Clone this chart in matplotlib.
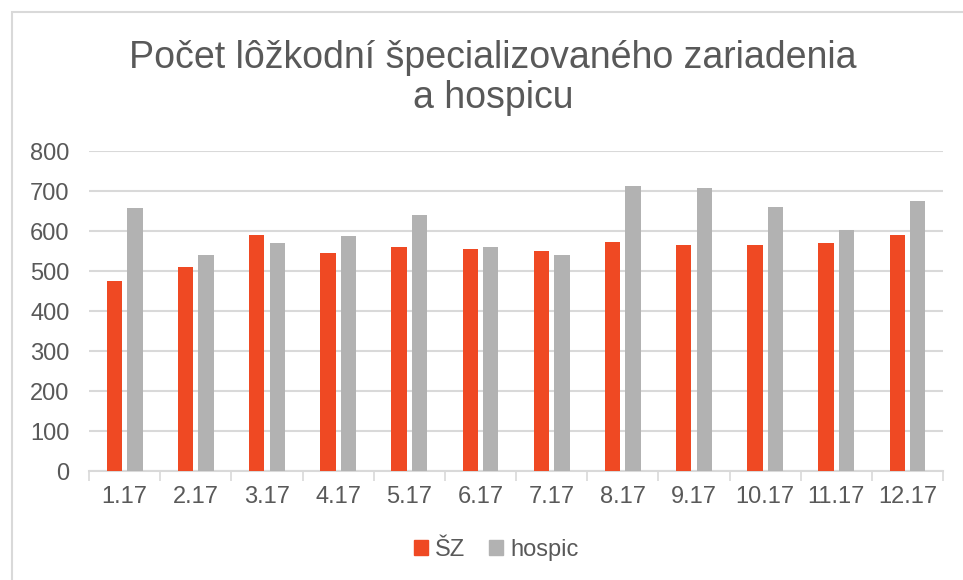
import numpy as np
import matplotlib.pyplot as plt
import matplotlib.patches as mpatches

months = ["1.17", "2.17", "3.17", "4.17", "5.17", "6.17",
          "7.17", "8.17", "9.17", "10.17", "11.17", "12.17"]
sz_values = [476, 511, 589, 544, 560, 555, 551, 572, 565, 564, 570, 589]
hospic_values = [658, 539, 570, 587, 641, 561, 539, 712, 708, 659, 602, 676]
y_ticks = [0, 100, 200, 300, 400, 500, 600, 700, 800]

plt.rcParams['font.family'] = ['Liberation Sans', 'DejaVu Sans']

TEXT = "#595959"
GRID = "#D9D9D9"
SZ_COLOR = "#EF4923"
HOSPIC_COLOR = "#B2B2B2"

fig = plt.figure(figsize=(9.63, 5.8), dpi=100)
ax = fig.add_axes([89 / 963, 109 / 580, 854 / 963, 320 / 580])

x = np.arange(len(months))
w = 0.216
ax.bar(x - 0.143, sz_values, width=w, color=SZ_COLOR, label="ŠZ", zorder=3)
ax.bar(x + 0.146, hospic_values, width=w, color=HOSPIC_COLOR, label="hospic", zorder=3)

ax.set_xlim(-0.5, len(months) - 0.5)
ax.set_ylim(0, 800)
ax.set_yticks(y_ticks)
ax.yaxis.grid(True, color=GRID, linewidth=1.5, zorder=0)
ax.tick_params(axis='y', length=0, pad=14, labelsize=17, labelcolor=TEXT)

# category boundaries get the tick marks, labels sit in between
ax.set_xticks(np.arange(-0.5, len(months), 1.0))
ax.set_xticklabels([])
ax.set_xticks(x, minor=True)
ax.set_xticklabels(months, minor=True)
ax.tick_params(axis='x', which='major', length=7, width=1.2, color=GRID)
ax.tick_params(axis='x', which='minor', length=0, pad=11, labelsize=17, labelcolor=TEXT)

for s in ['top', 'right', 'left']:
    ax.spines[s].set_visible(False)
ax.spines['bottom'].set_color(GRID)
ax.spines['bottom'].set_linewidth(1.5)

fig.text(0.512, 1 - 78 / 580, "Počet lôžkodní špecializovaného zariadenia\na hospicu",
         ha='center', va='center', fontsize=27, color=TEXT, linespacing=1.16)

handles = [mpatches.Patch(color=SZ_COLOR, label="ŠZ"),
           mpatches.Patch(color=HOSPIC_COLOR, label="hospic")]
fig.legend(handles=handles, loc='center', bbox_to_anchor=(0.515, 1 - 550 / 580),
           ncol=2, frameon=False, fontsize=17, labelcolor=TEXT,
           handlelength=0.6, handleheight=0.6, handletextpad=0.3, columnspacing=1.0)

# chart border (only left and top edges fall inside the picture)
fig.patches.append(mpatches.Rectangle((11.5 / 963, -0.1), 1.2, 1 - 11.5 / 580 + 0.1,
                                      transform=fig.transFigure, fill=False,
                                      edgecolor=GRID, linewidth=1.5))

fig.savefig("out.png", dpi=100)
